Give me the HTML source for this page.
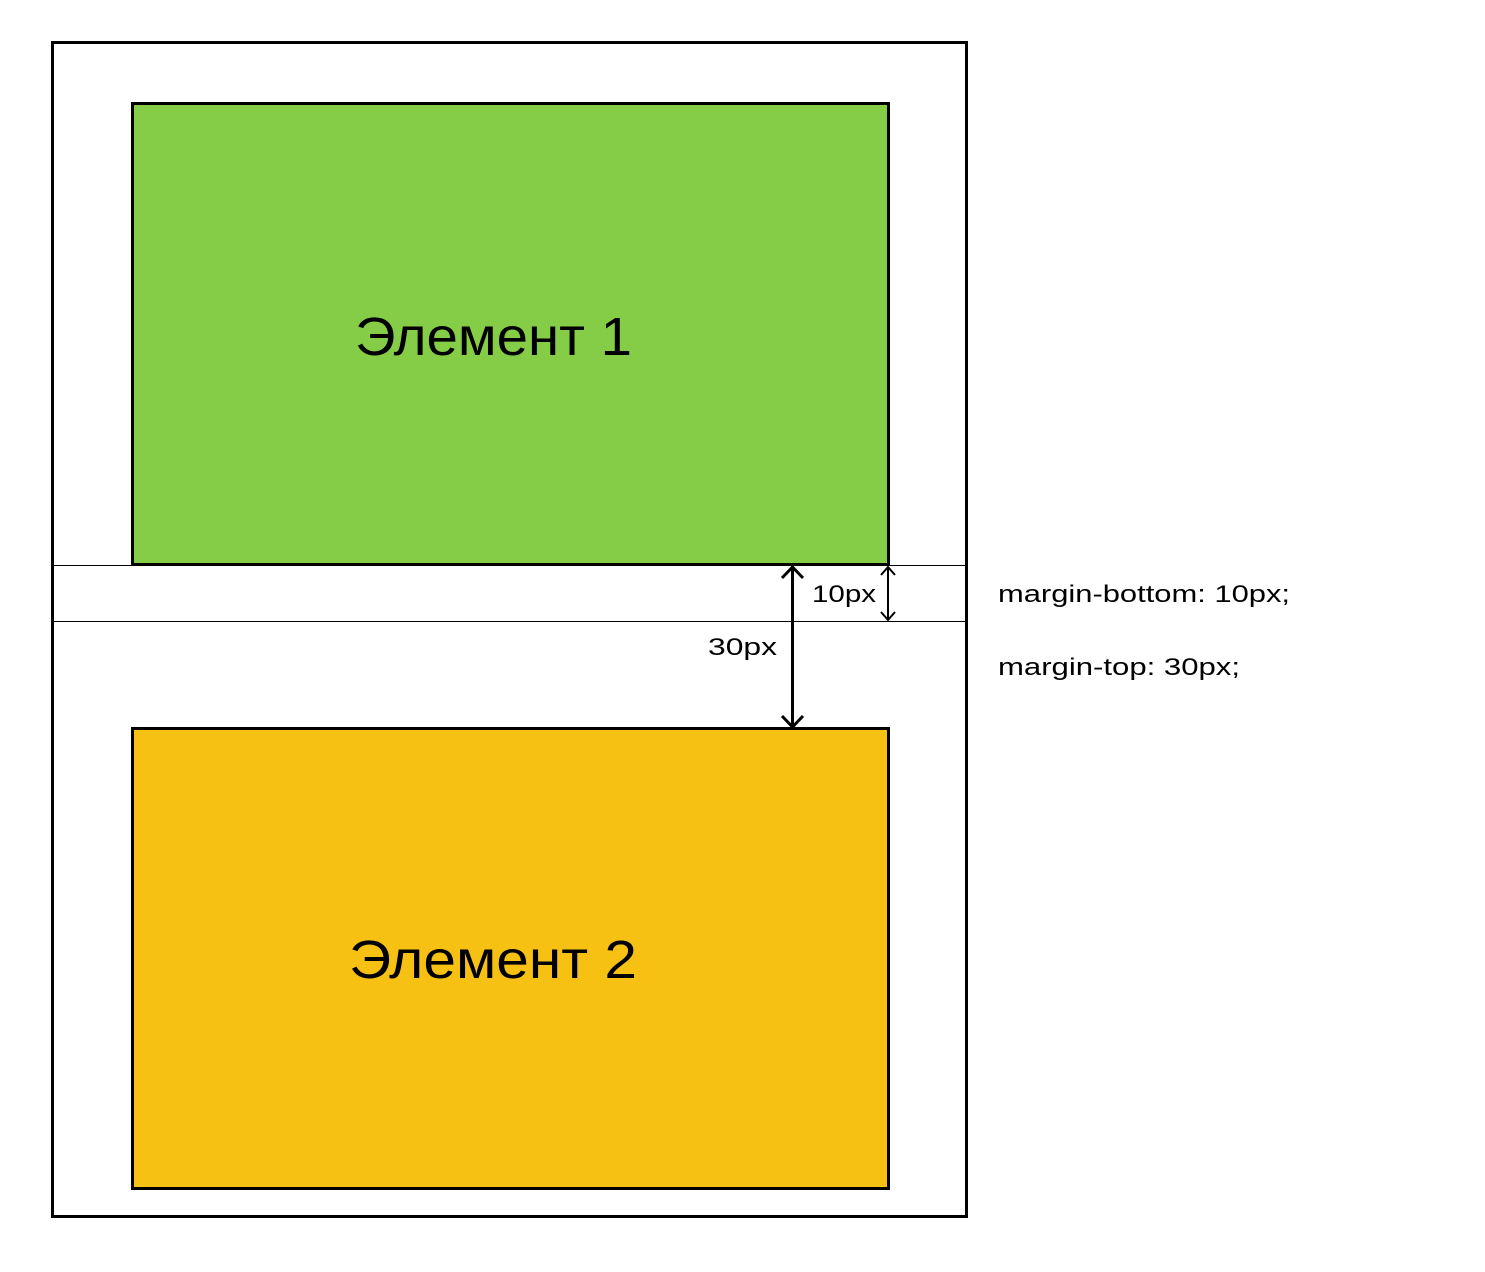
<!DOCTYPE html>
<html><head><meta charset="utf-8"><style>
body{margin:0;background:#fff;width:1485px;height:1267px;overflow:hidden}
</style></head><body>
<svg width="1485" height="1267" xmlns="http://www.w3.org/2000/svg" font-family="Liberation Sans, DejaVu Sans, sans-serif">
<rect x="52.5" y="42.5" width="914" height="1174" fill="#fff" stroke="#000" stroke-width="3"/>
<rect x="132.5" y="103.5" width="756" height="461" fill="#86cd47" stroke="#000" stroke-width="3"/>
<rect x="132.5" y="728.5" width="756" height="460" fill="#f7c113" stroke="#000" stroke-width="3"/>
<line x1="52" y1="565.5" x2="967" y2="565.5" stroke="#000" stroke-width="1"/>
<line x1="52" y1="621.5" x2="967" y2="621.5" stroke="#000" stroke-width="1"/>
<g stroke="#000" fill="none" stroke-width="3">
<line x1="792.5" y1="567" x2="792.5" y2="726"/>
<polyline points="782,578 792.5,567 803,578"/>
<polyline points="782,716 792.5,727 803,716"/>
</g>
<g stroke="#000" fill="none" stroke-width="2">
<line x1="888" y1="567" x2="888" y2="620"/>
<polyline points="881,575 888,567 895,575"/>
<polyline points="881,612 888,620 895,612"/>
</g>
<text x="355" y="355" font-size="54" textLength="277" lengthAdjust="spacingAndGlyphs">Элемент 1</text>
<text x="349" y="978" font-size="54" textLength="288" lengthAdjust="spacingAndGlyphs">Элемент 2</text>
<text x="812" y="602" font-size="24" textLength="64" lengthAdjust="spacingAndGlyphs">10px</text>
<text x="708" y="655" font-size="24" textLength="69" lengthAdjust="spacingAndGlyphs">30px</text>
<text x="998" y="602" font-size="24" textLength="292" lengthAdjust="spacingAndGlyphs">margin-bottom: 10px;</text>
<text x="998" y="675" font-size="24" textLength="242" lengthAdjust="spacingAndGlyphs">margin-top: 30px;</text>
</svg>
</body></html>
